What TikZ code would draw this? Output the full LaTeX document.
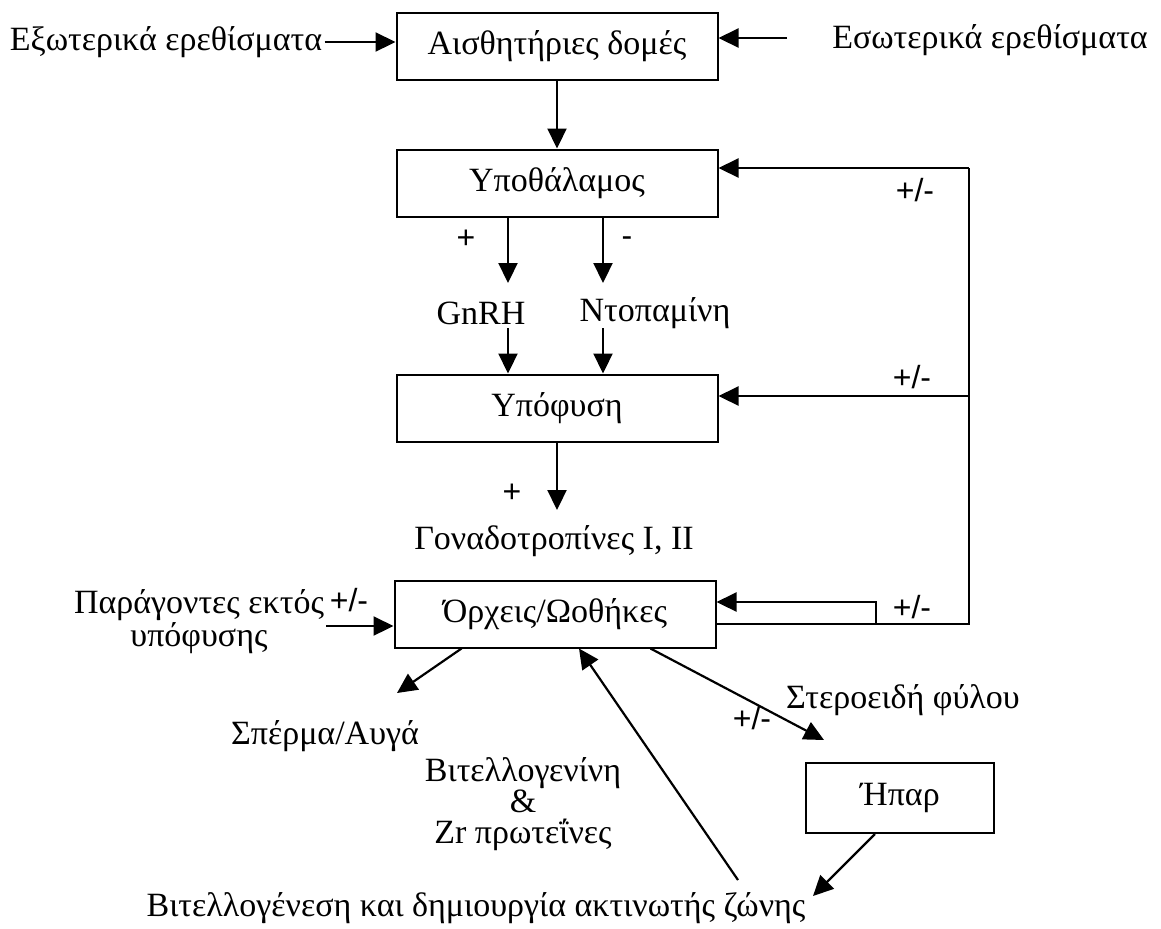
\documentclass[tikz,border=0pt]{standalone}
\usepackage{fontspec}
\setmainfont{Liberation Serif}
\newfontfamily\signfont{Liberation Sans}
\usetikzlibrary{arrows.meta,calc}

\tikzset{
	box/.style={draw, line width=1pt, minimum width=160.5pt, minimum height=33.5pt, inner sep=0pt},
	arr/.style={line width=1.1pt, -{Triangle[length=10pt,width=9.5pt]}},
	conn/.style={line width=1.1pt},
	lbl/.style={inner sep=1pt, align=center},
	sign/.style={inner sep=0pt, font=\signfont\fontsize{16}{16}\selectfont}
}

\begin{document}
\begin{tikzpicture}[x=0.5pt, y=-0.5pt, font=\fontsize{17}{15.5}\selectfont]
		%%%%% START %%%%%
		\useasboundingbox (0,0) rectangle (1161,928);
		
		\node[box] (aisth) at (557,46) {Αισθητήριες δομές};
		\node[box] (ypoth) at (557,183) {Υποθάλαμος};
		\node[box] (ypof) at (557,408) {Υπόφυση};
		\node[box] (orxeis) at (555,614) {Όρχεις/Ωοθήκες};
		\node[box, minimum width=94pt, minimum height=35pt] (ipar) at (900,798) {Ήπαρ};
		
		\node[lbl] (exot) at (166,42) {Εξωτερικά ερεθίσματα};
		\node[lbl] (esot) at (990,40) {Εσωτερικά ερεθίσματα};
		\node[lbl] (gnrh) at (481,313) {GnRH};
		\node[lbl] (ntop) at (655,313) {Ντοπαμίνη};
		\node[lbl] (gonad) at (554,541) {Γοναδοτροπίνες I, II};
		\node[lbl] (parag) at (199,622) {Παράγοντες εκτός\\υπόφυσης};
		\node[lbl] (sperma) at (325,736) {Σπέρμα/Αυγά};
		\node[lbl] (steroid) at (903,700) {Στεροειδή φύλου};
		\node[lbl] (vitel) at (523,804) {Βιτελλογενίνη\\\&\\Zr πρωτεΐνες};
		\node[lbl] (vitgen) at (476,908) {Βιτελλογένεση και δημιουργία ακτινωτής ζώνης};
		
		\node[sign] (plusA) at (466,239) {+};
		\node[sign] (minusA) at (627,242) {-};
		\node[sign] (pmA) at (915,190) {+/-};
		\node[sign] (pmB) at (912,377) {+/-};
		\node[sign] (plusB) at (512,493) {+};
		\node[sign] (pmC) at (912,607) {+/-};
		\node[sign] (pmD) at (349,600) {+/-};
		\node[sign] (pmE) at (752,718) {+/-};
		
		% stimuli
		\coordinate (esotin) at (787,38);
		\draw[arr] (exot.east) -- (exot.east -| aisth.west);
		\draw[arr] (esotin) -- (esotin -| aisth.east);
		\draw[arr] (aisth.south) -- (ypoth.north);
		
		% hypothalamus -> pituitary
		\coordinate (gnrhtip) at (508,283);
		\coordinate (ntoptip) at (603,283);
		\coordinate (gnrhtail) at (508,328);
		\coordinate (ntoptail) at (603,328);
		\draw[arr] (gnrhtip |- ypoth.south) -- (gnrhtip);
		\draw[arr] (ntoptip |- ypoth.south) -- (ntoptip);
		\draw[arr] (gnrhtail) -- (gnrhtail |- ypof.north);
		\draw[arr] (ntoptail) -- (ntoptail |- ypof.north);
		
		\coordinate (gonadtip) at (557,510);
		\draw[arr] (ypof.south) -- (gonadtip);
		
		% feedback
		\coordinate (fbtop) at (969,168);
		\coordinate (fbmid) at (969,396);
		\coordinate (fbbot) at (969,624);
		\coordinate (fbstep) at (876,624);
		\coordinate (fbin) at (876,602);
		\draw[arr] (fbtop) -- (fbtop -| ypoth.east);
		\draw[arr] (fbmid) -- (fbmid -| ypof.east);
		\draw[conn] (fbtop) -- (fbbot) -- (fbbot -| orxeis.east);
		\draw[arr] (fbstep) -- (fbin) -- (fbin -| orxeis.east);
		
		% gonads
		\coordinate (paragout) at (326,626);
		\draw[arr] (paragout) -- (paragout -| orxeis.west);
		\coordinate (spermtip) at (397,693);
		\draw[arr] ([xshift=34pt]orxeis.south west) -- (spermtip);
		\coordinate (sttip) at (824,740);
		\draw[arr] ([xshift=-33pt]orxeis.south east) -- (sttip);
		\coordinate (vgtip) at (813,896);
		\draw[arr] ([xshift=-12.5pt]ipar.south) -- (vgtip);
		\coordinate (vgtail) at (738,880);
		\draw[arr] (vgtail) -- ([xshift=12pt]orxeis.south);
		%%%%% END %%%%%
	\end{tikzpicture}
\end{document}
